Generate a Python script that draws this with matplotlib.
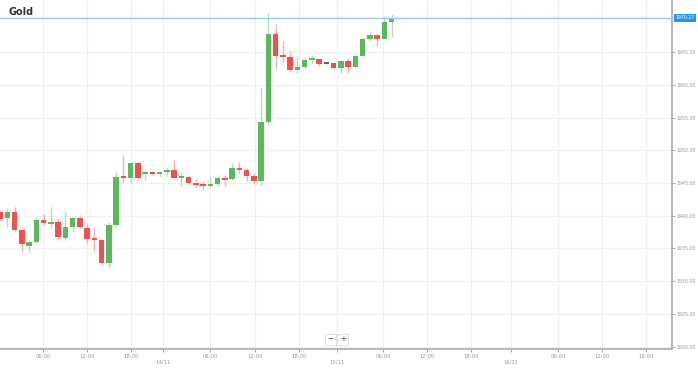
import matplotlib
matplotlib.use("Agg")
import matplotlib.pyplot as plt
import numpy as np

# hourly candles, Gold
opens = [1940.54, 1939.62, 1940.54, 1937.83, 1935.43, 1935.95, 1939.36, 1938.79, 1939.01, 1936.65,
         1938.34, 1939.71, 1938.18, 1936.56, 1936.25, 1932.74, 1938.59, 1945.98, 1945.83, 1948.03,
         1946.39, 1946.74, 1946.39, 1946.70, 1947.01, 1945.83, 1945.98, 1944.97, 1944.86, 1944.56,
         1944.86, 1945.74, 1945.58, 1947.36, 1947.01, 1946.09, 1945.32, 1954.34, 1967.80, 1964.59,
         1964.28, 1962.30, 1962.76, 1963.82, 1963.98, 1963.21, 1963.37, 1962.60, 1963.67, 1962.76,
         1964.44, 1967.04, 1967.65, 1967.04, 1969.64]
highs = [1940.89, 1941.15, 1941.39, 1938.18, 1936.30, 1939.86, 1940.23, 1941.39, 1939.51, 1940.74,
         1939.86, 1940.02, 1938.85, 1938.18, 1936.30, 1939.10, 1946.74, 1949.30, 1948.23, 1948.27,
         1946.90, 1946.85, 1946.80, 1947.51, 1948.53, 1946.74, 1946.24, 1945.63, 1945.37, 1945.98,
         1946.24, 1946.24, 1948.03, 1948.27, 1947.26, 1946.50, 1959.54, 1971.01, 1969.33, 1966.73,
         1965.20, 1964.44, 1964.13, 1964.59, 1964.13, 1963.30, 1963.37, 1963.82, 1964.13, 1964.74,
         1967.19, 1968.11, 1967.80, 1970.55, 1970.86]
lows = [1939.21, 1938.34, 1937.68, 1934.42, 1934.51, 1935.80, 1938.59, 1937.98, 1936.45, 1936.30,
        1937.48, 1938.14, 1935.64, 1934.62, 1932.63, 1931.97, 1938.34, 1944.97, 1944.97, 1945.63,
        1945.48, 1946.19, 1945.98, 1946.09, 1945.74, 1944.56, 1944.86, 1944.21, 1943.95, 1944.45,
        1944.56, 1944.56, 1945.50, 1946.50, 1945.37, 1945.02, 1944.71, 1953.89, 1962.45, 1963.52,
        1961.99, 1961.84, 1962.60, 1963.37, 1962.91, 1963.15, 1962.60, 1961.84, 1961.84, 1962.70,
        1964.40, 1966.73, 1965.97, 1967.00, 1967.34]
closes = [1939.51, 1940.54, 1937.83, 1935.64, 1935.95, 1939.36, 1938.85, 1939.10, 1936.81, 1938.34,
          1939.71, 1938.24, 1936.41, 1936.25, 1932.74, 1938.59, 1945.98, 1945.83, 1948.03, 1945.74,
          1946.74, 1946.39, 1946.65, 1947.01, 1945.83, 1946.04, 1944.97, 1944.71, 1944.60, 1944.86,
          1945.74, 1945.48, 1947.36, 1947.01, 1946.09, 1945.32, 1954.34, 1967.80, 1964.44, 1964.28,
          1962.30, 1962.76, 1963.82, 1963.98, 1963.21, 1963.21, 1962.60, 1963.67, 1962.76, 1964.44,
          1967.04, 1967.65, 1967.04, 1969.64, 1970.10]
last_price = 1970.27

# tick positions in candle units
tick_pos = [5.95, 12.0, 18.05, 22.5, 29.0, 35.1, 41.2, 46.4, 52.85, 58.9, 65.0, 70.4, 77.0, 83.0, 89.05]
tick_labels = ["06:00", "12:00", "18:00", "\n14/11", "06:00", "12:00", "18:00", "\n15/11",
               "06:00", "12:00", "18:00", "\n16/11", "06:00", "12:00", "18:00"]
y_ticks = [1920, 1925, 1930, 1935, 1940, 1945, 1950, 1955, 1960, 1965]

green, red = "#5cb85c", "#f0504f"
green_w, red_w = "#b5dfb5", "#f7b0b0"

fig = plt.figure(figsize=(6.98, 3.68), dpi=100)
ax = fig.add_axes([0, 19 / 368, 672 / 698, 349 / 368])

o = np.array(opens); h = np.array(highs); l = np.array(lows); c = np.array(closes)
idx = np.arange(len(o))
up = c > o
down = c < o

body_col = np.where(up, green, np.where(down, red, "#666666"))
wick_col = np.where(up, green_w, np.where(down, red_w, "#999999"))

ax.vlines(idx, l, h, colors=wick_col, linewidth=1.0, zorder=2)
bottom = np.minimum(o, c)
height = np.maximum(np.abs(c - o), 0.25)
ax.bar(idx, height, bottom=bottom, width=0.75, color=body_col, linewidth=0, zorder=3)

ax.axhline(last_price, color="#90caf9", linewidth=1.0, zorder=4)
ax.annotate(f"{last_price:.2f}", xy=(1.0, last_price), xycoords=("axes fraction", "data"),
            xytext=(2.5, 0), textcoords="offset points", ha="left", va="center",
            fontsize=3.3, color="white", annotation_clip=False,
            bbox=dict(boxstyle="square,pad=0.3", fc="#2196f3", ec="none"))

ax.set_xlim(-0.03, 92.66)
ax.set_ylim(1919.63, 1973.0)

ax.set_xticks(tick_pos)
ax.set_xticklabels(tick_labels)
ax.set_yticks(y_ticks)
ax.set_yticklabels([f"{v:.2f}" for v in y_ticks])
ax.yaxis.tick_right()
ax.tick_params(axis="both", labelsize=3.8, colors="#999999", length=2.2, width=0.6)
ax.tick_params(axis="x", pad=1.5)
ax.tick_params(axis="y", labelsize=3.4, pad=0.8)

ax.grid(True, color="#f0f0f0", linewidth=0.8, zorder=0)
ax.set_axisbelow(True)
for s in ("left", "top"):
    ax.spines[s].set_visible(False)
for s in ("right", "bottom"):
    ax.spines[s].set_color("#aaaaaa")
    ax.spines[s].set_linewidth(1.2)

ax.text(0.012, 0.965, "Gold", transform=ax.transAxes, fontsize=7, fontweight="bold",
        color="#333333", ha="left", va="center")

for xf, s in [(0.492, "\u2212"), (0.510, "+")]:
    ax.text(xf, 0.028, s, transform=ax.transAxes, fontsize=5, color="#333333",
            ha="center", va="center",
            bbox=dict(boxstyle="square,pad=0.35", fc="white", ec="#dddddd", lw=0.6))

fig.savefig("out.png", dpi=100)
